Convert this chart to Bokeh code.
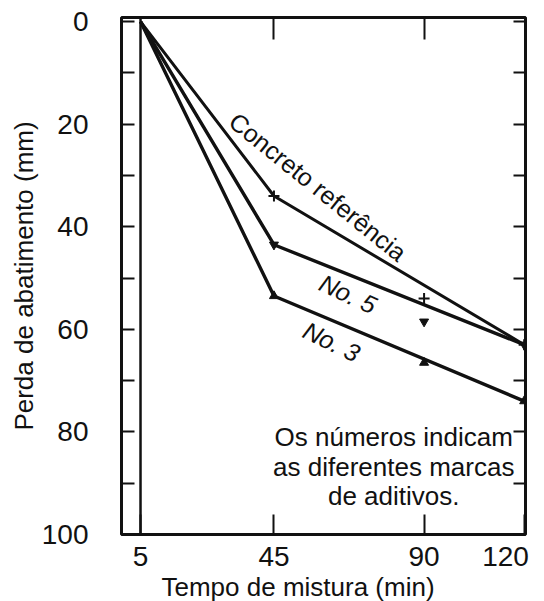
from bokeh.plotting import figure
from bokeh.models import Range1d, FixedTicker, LinearAxis, Span, Label, Title
from bokeh.embed import file_html
from bokeh.resources import INLINE

# ---- data ----
tempo_linha = [5, 45, 120]
ref_linha = [0, 34, 63]
no5_linha = [0, 43.5, 63]
no3_linha = [0, 53.5, 74]

tempo_pontos = [45, 90, 120]
ref_pontos = [34, 54, 63]
no5_pontos = [43.5, 58.5, 63]
no3_pontos = [53.5, 66.5, 74]

x_ticks = [5, 45, 90, 120]
x_tick_labels = ["5", "45", "90", "120"]
x_inner_ticks = [45, 90]
y_ticks = [0, 20, 40, 60, 80, 100]
y_minor_ticks = [10, 30, 50, 70, 90]
y_all_ticks = [0, 10, 20, 30, 40, 50, 60, 70, 80, 90, 100]

nota_linhas = ["Os números indicam", "as diferentes marcas", "de aditivos."]

FONT = "Liberation Sans"
INK = "#111111"
NBSP = "\u00a0"

p = figure(width=544, height=601,
           x_range=Range1d(-0.7, 120.4), y_range=Range1d(100, -0.8),
           output_backend="svg", toolbar_location=None,
           min_border_left=121, min_border_right=19,
           min_border_top=17, min_border_bottom=67)

p.grid.visible = False
p.background_fill_color = "white"
p.border_fill_color = "white"
p.outline_line_color = INK
p.outline_line_width = 3

# bottom axis
xa = p.xaxis[0]
xa.ticker = FixedTicker(ticks=x_ticks, minor_ticks=[])
xa.major_tick_in = 20
xa.major_tick_out = 0
xa.major_tick_line_width = 2
xa.major_tick_line_color = INK
xa.axis_line_color = None
# the last label sits left of its tick, as in the reference
overrides = dict(zip(x_ticks, x_tick_labels))
overrides[120] = x_tick_labels[-1] + NBSP * 2
xa.major_label_overrides = overrides
xa.major_label_text_font = FONT
xa.major_label_text_font_size = "28px"
xa.major_label_text_color = INK
xa.major_label_standoff = 6

# x axis title
p.add_layout(Title(text="Tempo de mistura (min)", align="left", offset=40,
                   text_font=FONT, text_font_size="26px", text_font_style="normal",
                   text_color=INK, standoff=-9), "below")

# left axis
ya = p.yaxis[0]
ya.ticker = FixedTicker(ticks=y_ticks, minor_ticks=y_minor_ticks)
ya.major_tick_in = 13
ya.major_tick_out = 0
ya.minor_tick_in = 13
ya.minor_tick_out = 0
ya.major_tick_line_width = 2
ya.minor_tick_line_width = 2
ya.major_tick_line_color = INK
ya.minor_tick_line_color = INK
ya.axis_line_color = None
ya.major_label_text_font = FONT
ya.major_label_text_font_size = "28px"
ya.major_label_text_color = INK
ya.major_label_standoff = 33
ya.axis_label = "Perda de abatimento (mm)"
ya.axis_label_text_font = FONT
ya.axis_label_text_font_size = "26px"
ya.axis_label_text_font_style = "normal"
ya.axis_label_text_color = INK
ya.axis_label_standoff = 0

# top axis
top = LinearAxis(ticker=FixedTicker(ticks=x_inner_ticks, minor_ticks=[]),
                 major_tick_in=22, major_tick_out=0, major_tick_line_width=2,
                 major_tick_line_color=INK, axis_line_color=None,
                 major_label_overrides={t: "" for t in x_inner_ticks})
p.add_layout(top, "above")

# right axis
right = LinearAxis(ticker=FixedTicker(ticks=y_all_ticks, minor_ticks=[]),
                   major_tick_in=12, major_tick_out=0, major_tick_line_width=2,
                   major_tick_line_color=INK, axis_line_color=None,
                   major_label_overrides={t: "" for t in y_all_ticks})
p.add_layout(right, "right")

# vertical line at 5 min
p.add_layout(Span(location=5, dimension="height", line_color=INK, line_width=2.5))

# lines
p.line(tempo_linha, ref_linha, line_color=INK, line_width=3)
p.line(tempo_linha, no5_linha, line_color=INK, line_width=3.4)
p.line(tempo_linha, no3_linha, line_color=INK, line_width=3.4)

# markers
p.scatter(tempo_pontos, ref_pontos, marker="cross", size=11, line_color=INK, line_width=2)
p.scatter(tempo_pontos, no5_pontos, marker="inverted_triangle", size=9,
          fill_color=INK, line_color=INK)
p.scatter(tempo_pontos, no3_pontos, marker="triangle", size=9,
          fill_color=INK, line_color=INK)

# curve annotations
p.add_layout(Label(x=58.2, y=32.2, text="Concreto referência", text_font=FONT,
                   text_font_size="25px", text_color=INK, text_align="center",
                   text_baseline="middle", angle=-39, angle_units="deg"))
p.add_layout(Label(x=67.2, y=53.1, text="No. 5", text_font=FONT, text_font_style="italic",
                   text_font_size="25px", text_color=INK, text_align="center",
                   text_baseline="middle", angle=-25, angle_units="deg"))
p.add_layout(Label(x=62.3, y=62.4, text="No. 3", text_font=FONT, text_font_style="italic",
                   text_font_size="25px", text_color=INK, text_align="center",
                   text_baseline="middle", angle=-26, angle_units="deg"))

# note
for linha, yy in zip(nota_linhas, [80.9, 86.9, 92.4]):
    p.add_layout(Label(x=80.9, y=yy, text=linha, text_font=FONT, text_font_size="26px",
                       text_color=INK, text_align="center", text_baseline="alphabetic"))

open("out.html", "w").write(file_html(p, INLINE))
